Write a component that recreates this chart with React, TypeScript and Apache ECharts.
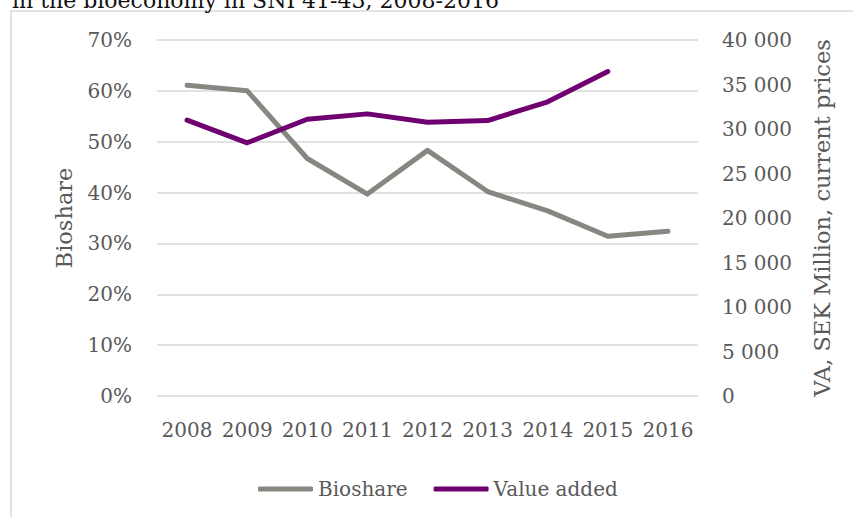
import React, { useEffect, useRef } from "react";
import * as echarts from "echarts";

// Years on the category axis
const years = ["2008", "2009", "2010", "2011", "2012", "2013", "2014", "2015", "2016"];
// Bio-based share of the industry (fraction)
const bioshare = [0.611, 0.6, 0.467, 0.397, 0.483, 0.402, 0.364, 0.314, 0.324];
// Value added, SEK million in current prices (no figure for 2016)
const valueAdded = [31000, 28450, 31100, 31700, 30750, 30950, 33050, 36450, null];

const titleText = "in the bioeconomy in SNI 41-43, 2008-2016";
const leftAxisName = "Bioshare";
const rightAxisName = "VA, SEK Million, current prices";
const seriesNames = ["Bioshare", "Value added"];

const FONT = "DejaVu Serif";
const TEXT = "#595959";
const GREY = "#878782";
const PURPLE = "#6e0070";

const thousands = (v: number) => String(v).replace(/\B(?=(\d{3})+(?!\d))/g, " ");

export default function App() {
  const ref = useRef<HTMLDivElement>(null);

  useEffect(() => {
    if (!ref.current) return;
    const chart = echarts.init(ref.current, null, { renderer: "svg" });
    chart.setOption({
      animation: false,
      backgroundColor: "#ffffff",
      textStyle: { fontFamily: FONT, color: TEXT },
      graphic: [
        {
          type: "rect",
          shape: { x: 11, y: 11, width: 900, height: 600 },
          style: { fill: "none", stroke: "#d9d9d9", lineWidth: 1.5 },
          silent: true,
        },
        {
          type: "text",
          x: 12,
          y: 11,
          style: {
            text: titleText,
            font: `22px "${FONT}"`,
            fill: "#111111",
            verticalAlign: "bottom",
          },
          silent: true,
        },
      ],
      grid: { left: 157, right: 155, top: 40, bottom: 121 },
      legend: {
        left: 253,
        top: 474,
        itemWidth: 55,
        itemHeight: 5,
        itemGap: 26,
        icon: "roundRect",
        textStyle: { fontFamily: FONT, fontSize: 20, color: TEXT },
        data: seriesNames,
      },
      xAxis: {
        type: "category",
        data: years,
        boundaryGap: true,
        axisLine: { show: false },
        axisTick: { show: false },
        axisLabel: { fontFamily: FONT, fontSize: 20, color: TEXT, margin: 24, interval: 0 },
      },
      yAxis: [
        {
          type: "value",
          min: 0,
          max: 0.7,
          interval: 0.1,
          name: leftAxisName,
          nameLocation: "middle",
          nameGap: 82,
          nameTextStyle: { fontFamily: FONT, fontSize: 22.5, color: TEXT },
          axisLine: { show: false },
          axisTick: { show: false },
          axisLabel: {
            fontFamily: FONT,
            fontSize: 20,
            color: TEXT,
            margin: 25,
            formatter: (v: number) => `${Math.round(v * 100)}%`,
          },
          splitLine: { show: true, lineStyle: { color: "#d9d9d9", width: 1.5 } },
        },
        {
          type: "value",
          min: 0,
          max: 40000,
          interval: 5000,
          position: "right",
          name: rightAxisName,
          nameLocation: "middle",
          nameGap: 112,
          nameTextStyle: { fontFamily: FONT, fontSize: 22.5, color: TEXT },
          axisLine: { show: false },
          axisTick: { show: false },
          axisLabel: {
            fontFamily: FONT,
            fontSize: 20,
            color: TEXT,
            margin: 24,
            formatter: (v: number) => thousands(v),
          },
          splitLine: { show: false },
        },
      ],
      series: [
        {
          name: seriesNames[0],
          type: "line",
          yAxisIndex: 0,
          data: bioshare,
          symbol: "none",
          lineStyle: { color: GREY, width: 5, cap: "round", join: "round" },
          itemStyle: { color: GREY },
          z: 2,
        },
        {
          name: seriesNames[1],
          type: "line",
          yAxisIndex: 1,
          data: valueAdded,
          symbol: "none",
          lineStyle: { color: PURPLE, width: 5, cap: "round", join: "round" },
          itemStyle: { color: PURPLE },
          z: 3,
        },
      ],
    });
    return () => chart.dispose();
  }, []);

  return (
    <div
      ref={ref}
      style={{ position: "fixed", left: 0, top: 0, width: 853, height: 517 }}
    />
  );
}
